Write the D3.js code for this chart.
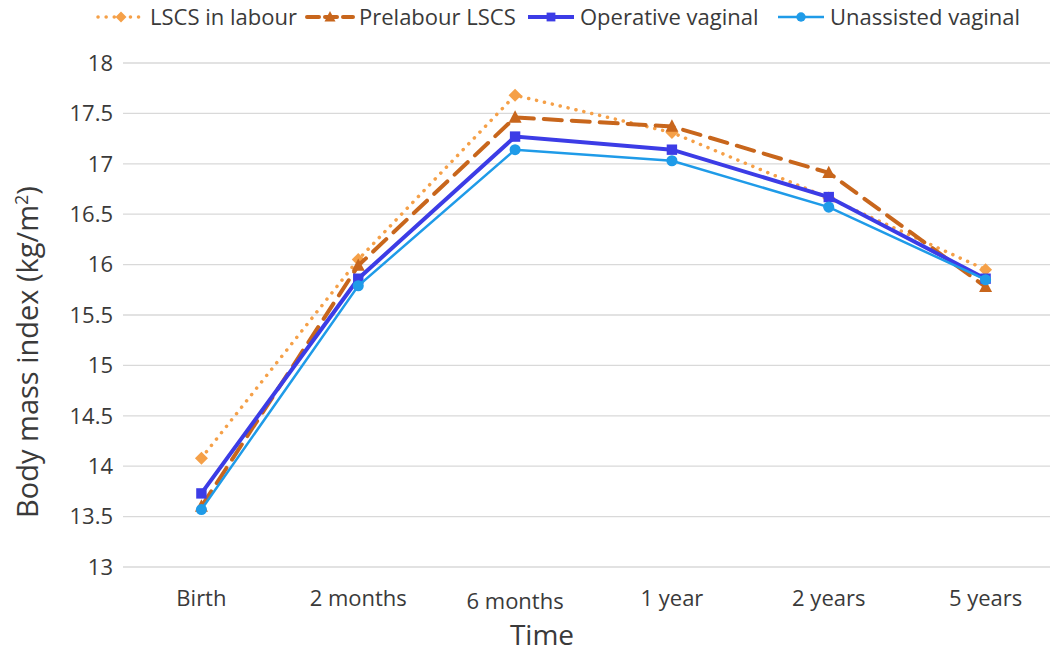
<!DOCTYPE html>
<html>
<head>
<meta charset="utf-8">
<script src="https://cdn.jsdelivr.net/npm/d3@7"></script>
<style>
body { margin: 0; background: #fff; }
text { font-family: "Open Sans", "Noto Sans", sans-serif; fill: #3a3a3a; }
</style>
</head>
<body>
<script>
var width = 1064,
    height = 654

var times = ["Birth", "2 months", "6 months", "1 year", "2 years", "5 years"]
var yTicks = [13, 13.5, 14, 14.5, 15, 15.5, 16, 16.5, 17, 17.5, 18]

var lscsLabour = [14.08, 16.05, 17.68, 17.31, 16.66, 15.95]
var prelabourLscs = [13.6, 15.99, 17.46, 17.37, 16.91, 15.78]
var operativeVaginal = [13.73, 15.86, 17.27, 17.14, 16.67, 15.86]
var unassistedVaginal = [13.57, 15.79, 17.14, 17.03, 16.57, 15.85]

var series = [
    {name: "LSCS in labour", values: lscsLabour, color: "#F5A048", width: 3.5, dash: "0.1,8", cap: "round", marker: "diamond"},
    {name: "Prelabour LSCS", values: prelabourLscs, color: "#C8661C", width: 4, dash: "18,10", cap: "round", marker: "triangle"},
    {name: "Operative vaginal", values: operativeVaginal, color: "#3C3CE6", width: 4, dash: null, cap: "butt", marker: "square"},
    {name: "Unassisted vaginal", values: unassistedVaginal, color: "#1F9BE8", width: 2.5, dash: null, cap: "butt", marker: "circle"}
]

var margin = {left: 123, right: 0, top: 63, bottom: 87}

var x = d3.scalePoint()
    .domain(times)
    .range([margin.left, width - margin.right])
    .padding(0.5)

var y = d3.scaleLinear()
    .domain([13, 18])
    .range([height - margin.bottom, margin.top])

var svg = d3.select("body").append("svg")
    .attr("width", width)
    .attr("height", height)

// gridlines
svg.append("g")
    .selectAll("line")
    .data(yTicks)
    .enter().append("line")
    .attr("x1", margin.left)
    .attr("x2", 1050)
    .attr("y1", d => y(d))
    .attr("y2", d => y(d))
    .attr("stroke", "#d9d9d9")
    .attr("stroke-width", 1.3)

// y tick labels
svg.append("g")
    .selectAll("text")
    .data(yTicks)
    .enter().append("text")
    .attr("x", 113)
    .attr("y", d => y(d))
    .attr("dy", "0.35em")
    .attr("text-anchor", "end")
    .style("font-size", "22px")
    .text(d => d)

// x tick labels
svg.append("g")
    .selectAll("text")
    .data(times)
    .enter().append("text")
    .attr("x", d => x(d))
    .attr("y", (d, i) => i == 2 ? 609 : 606)
    .attr("text-anchor", "middle")
    .style("font-size", "22px")
    .text(d => d)

// axis titles
svg.append("text")
    .attr("x", 542)
    .attr("y", 645)
    .attr("text-anchor", "middle")
    .style("font-size", "28px")
    .text("Time")

var yt = svg.append("text")
    .attr("transform", "translate(38,352) rotate(-90)")
    .attr("text-anchor", "middle")
    .style("font-size", "29px")
yt.append("tspan").text("Body mass index (kg/m")
yt.append("tspan").attr("dy", -10).style("font-size", "18px").text("2")
yt.append("tspan").attr("dy", 10).text(")")

var line = d3.line()
    .x((d, i) => x(times[i]))
    .y(d => y(d))

function drawMarker(g, type, color, size) {
    if (type == "diamond") {
        g.append("path").attr("d", `M0,${-size}L${size},0L0,${size}L${-size},0Z`).attr("fill", color)
    } else if (type == "triangle") {
        g.append("path").attr("d", `M0,${-size * 1.1}L${size},${size * 0.8}L${-size},${size * 0.8}Z`).attr("fill", color)
    } else if (type == "square") {
        g.append("rect").attr("x", -size * 0.8).attr("y", -size * 0.8)
            .attr("width", size * 1.6).attr("height", size * 1.6).attr("fill", color)
    } else {
        g.append("circle").attr("r", size * 0.85).attr("fill", color)
    }
}

series.forEach(s => {
    svg.append("path")
        .datum(s.values)
        .attr("d", line)
        .attr("fill", "none")
        .attr("stroke", s.color)
        .attr("stroke-width", s.width)
        .attr("stroke-linecap", s.cap)
        .attr("stroke-dasharray", s.dash)
    s.values.forEach((v, i) => {
        var g = svg.append("g").attr("transform", `translate(${x(times[i])},${y(v)})`)
        drawMarker(g, s.marker, s.color, 6.5)
    })
})

// legend
var legendX = [98, 307, 528, 778]
series.forEach((s, i) => {
    var g = svg.append("g").attr("transform", `translate(${legendX[i]},17)`)
    g.append("line")
        .attr("x1", 0).attr("x2", 46)
        .attr("stroke", s.color)
        .attr("stroke-width", s.width)
        .attr("stroke-linecap", s.cap)
        .attr("stroke-dasharray", s.marker == "triangle" ? "12,6" : s.dash)
    var m = g.append("g").attr("transform", "translate(23,0)")
    drawMarker(m, s.marker, s.color, 5.5)
    g.append("text")
        .attr("x", 52)
        .attr("dy", "0.35em")
        .style("font-size", "22px")
        .text(s.name)
})
</script>
</body>
</html>
